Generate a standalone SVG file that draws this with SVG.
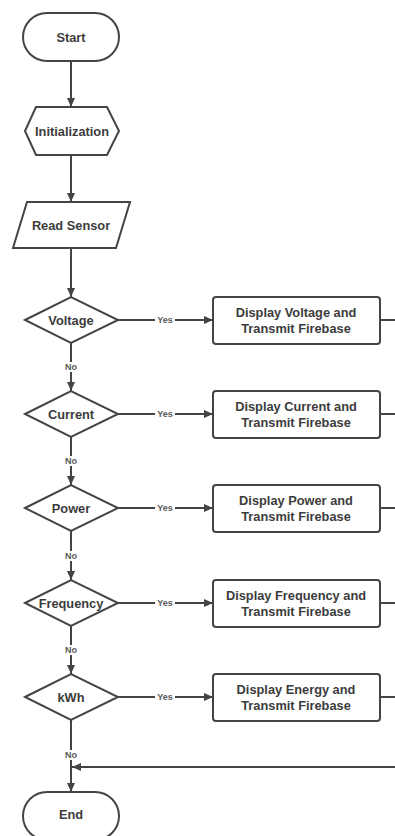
<svg xmlns="http://www.w3.org/2000/svg" width="395" height="836" viewBox="0 0 395 836">
  <style>
    .shape { fill: #ffffff; stroke: #444444; stroke-width: 2; }
    .t { font-family: "Liberation Sans", Arial, sans-serif; font-weight: bold; font-size: 12.8px; fill: #3c3c3c; text-anchor: middle; dominant-baseline: central; }
    .lbl { font-family: "Liberation Sans", Arial, sans-serif; font-weight: bold; font-size: 9px; fill: #5a5a5a; text-anchor: middle; dominant-baseline: central; }
    .c { fill: none; stroke: #444444; stroke-width: 2; }
    .bg { fill: #ffffff; }
  </style>
  <defs>
    <marker id="arr" markerUnits="userSpaceOnUse" markerWidth="9" markerHeight="8" refX="9" refY="4" orient="auto">
      <path d="M0,0 L9,4 L0,8 z" fill="#444444"/>
    </marker>
  </defs>
  <rect x="0" y="0" width="395" height="836" fill="#ffffff"/>

  <g id="connectors">
    <line class="c" x1="71" y1="61" x2="71" y2="107" marker-end="url(#arr)"/>
    <line class="c" x1="71" y1="155" x2="71" y2="202" marker-end="url(#arr)"/>
    <line class="c" x1="71" y1="248" x2="71" y2="297" marker-end="url(#arr)"/>

    <line class="c" x1="118" y1="320" x2="213" y2="320" marker-end="url(#arr)"/>
    <line class="c" x1="118" y1="414" x2="213" y2="414" marker-end="url(#arr)"/>
    <line class="c" x1="118" y1="508" x2="213" y2="508" marker-end="url(#arr)"/>
    <line class="c" x1="118" y1="603" x2="213" y2="603" marker-end="url(#arr)"/>
    <line class="c" x1="118" y1="697" x2="213" y2="697" marker-end="url(#arr)"/>

    <line class="c" x1="380" y1="320" x2="395" y2="320"/>
    <line class="c" x1="380" y1="414" x2="395" y2="414"/>
    <line class="c" x1="380" y1="508" x2="395" y2="508"/>
    <line class="c" x1="380" y1="603" x2="395" y2="603"/>
    <line class="c" x1="380" y1="697" x2="395" y2="697"/>

    <line class="c" x1="71" y1="343" x2="71" y2="391" marker-end="url(#arr)"/>
    <line class="c" x1="71" y1="437" x2="71" y2="485" marker-end="url(#arr)"/>
    <line class="c" x1="71" y1="531" x2="71" y2="580" marker-end="url(#arr)"/>
    <line class="c" x1="71" y1="626" x2="71" y2="674" marker-end="url(#arr)"/>
    <line class="c" x1="71" y1="720" x2="71" y2="792" marker-end="url(#arr)"/>

    <line class="c" x1="395" y1="767" x2="72" y2="767" marker-end="url(#arr)"/>

    <g>
      <rect class="bg" x="155" y="315" width="20" height="10"/>
      <text class="lbl" x="165" y="320">Yes</text>
      <rect class="bg" x="155" y="409" width="20" height="10"/>
      <text class="lbl" x="165" y="414">Yes</text>
      <rect class="bg" x="155" y="503" width="20" height="10"/>
      <text class="lbl" x="165" y="508">Yes</text>
      <rect class="bg" x="155" y="598" width="20" height="10"/>
      <text class="lbl" x="165" y="603">Yes</text>
      <rect class="bg" x="155" y="692" width="20" height="10"/>
      <text class="lbl" x="165" y="697">Yes</text>

      <rect class="bg" x="62" y="362" width="18" height="10"/>
      <text class="lbl" x="71" y="367">No</text>
      <rect class="bg" x="62" y="456" width="18" height="10"/>
      <text class="lbl" x="71" y="461">No</text>
      <rect class="bg" x="62" y="551" width="18" height="10"/>
      <text class="lbl" x="71" y="556">No</text>
      <rect class="bg" x="62" y="645" width="18" height="10"/>
      <text class="lbl" x="71" y="650">No</text>
      <rect class="bg" x="62" y="750" width="18" height="10"/>
      <text class="lbl" x="71" y="755">No</text>
    </g>
  </g>

  <g id="start">
    <rect class="shape" x="23" y="13" width="96" height="48" rx="24"/>
    <text class="t" x="71" y="37">Start</text>
  </g>
  <g id="init">
    <polygon class="shape" points="25,131 36,107 107,107 119,131 107,155 36,155"/>
    <text class="t" x="72" y="131">Initialization</text>
  </g>
  <g id="read">
    <polygon class="shape" points="27,202 130,202 116,248 13,248"/>
    <text class="t" x="71" y="225">Read Sensor</text>
  </g>

  <g id="voltage">
    <polygon class="shape" points="25,320 71,297 118,320 71,343"/>
    <text class="t" x="71" y="320">Voltage</text>
  </g>
  <g id="current">
    <polygon class="shape" points="25,414 71,391 118,414 71,437"/>
    <text class="t" x="71" y="414">Current</text>
  </g>
  <g id="power">
    <polygon class="shape" points="25,508 71,485 118,508 71,531"/>
    <text class="t" x="71" y="508">Power</text>
  </g>
  <g id="frequency">
    <polygon class="shape" points="25,603 71,580 118,603 71,626"/>
    <text class="t" x="71" y="603">Frequency</text>
  </g>
  <g id="kwh">
    <polygon class="shape" points="25,697 71,674 118,697 71,720"/>
    <text class="t" x="71" y="697">kWh</text>
  </g>

  <g id="disp-voltage">
    <rect class="shape" x="213" y="297" width="167" height="47" rx="3"/>
    <text class="t" x="296" y="312">Display Voltage and</text>
    <text class="t" x="296" y="328">Transmit Firebase</text>
  </g>
  <g id="disp-current">
    <rect class="shape" x="213" y="391" width="167" height="47" rx="3"/>
    <text class="t" x="296" y="406">Display Current and</text>
    <text class="t" x="296" y="422">Transmit Firebase</text>
  </g>
  <g id="disp-power">
    <rect class="shape" x="213" y="485" width="167" height="47" rx="3"/>
    <text class="t" x="296" y="500">Display Power and</text>
    <text class="t" x="296" y="516">Transmit Firebase</text>
  </g>
  <g id="disp-frequency">
    <rect class="shape" x="213" y="580" width="167" height="47" rx="3"/>
    <text class="t" x="296" y="595">Display Frequency and</text>
    <text class="t" x="296" y="611">Transmit Firebase</text>
  </g>
  <g id="disp-energy">
    <rect class="shape" x="213" y="674" width="167" height="47" rx="3"/>
    <text class="t" x="296" y="689">Display Energy and</text>
    <text class="t" x="296" y="705">Transmit Firebase</text>
  </g>

  <g id="end">
    <rect class="shape" x="23" y="792" width="96" height="48" rx="24"/>
    <text class="t" x="71" y="814">End</text>
  </g>
</svg>
